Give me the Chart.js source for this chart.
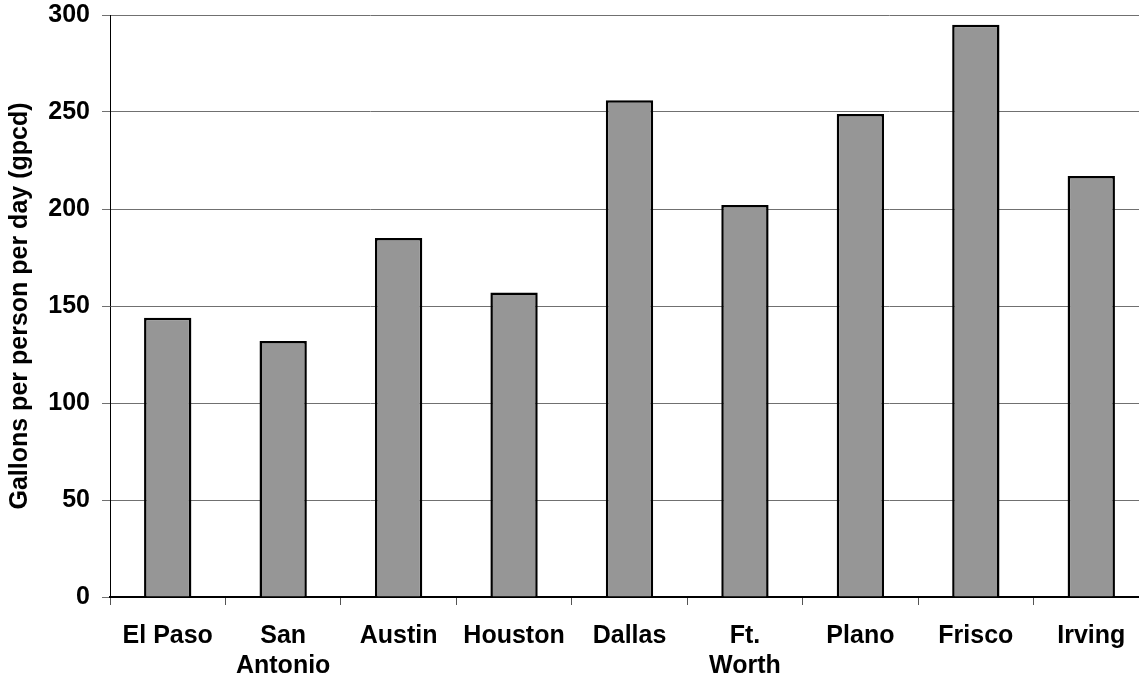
<!DOCTYPE html>
<html>
<head>
<meta charset="utf-8">
<title>Per capita water use, Texas cities</title>
<script src="https://cdn.jsdelivr.net/npm/chart.js@4"></script>
<style>
  html, body { margin: 0; padding: 0; background: #fff; overflow: hidden; }
  #wrap { position: absolute; left: 0; top: 0; width: 1149px; height: 677px; }
</style>
</head>
<body>
<div id="wrap"><canvas id="c" width="1149" height="677"></canvas></div>
<script>
// City labels (multi-word names wrap onto two lines)
const cities = [
  'El Paso', ['San', 'Antonio'], 'Austin', 'Houston', 'Dallas',
  ['Ft.', 'Worth'], 'Plano', 'Frisco', 'Irving'
];
// Gallons per person per day
const gpcd = [144, 132, 185, 157, 256, 202, 249, 295, 217];
// Value axis range and step
const yMin = 0;
const yMax = 300;
const yStep = 50;
const yTitle = 'Gallons per person per day (gpcd)';

const family = "'Liberation Sans', Arial, sans-serif";
const tickFont = { family: family, size: 25, weight: 'bold', lineHeight: 1.2 };
const titleFont = { family: family, size: 25, weight: 'bold', lineHeight: 1.08 };

new Chart(document.getElementById('c'), {
  type: 'bar',
  data: {
    labels: cities,
    datasets: [{
      data: gpcd,
      backgroundColor: '#969696',
      borderColor: '#000000',
      borderWidth: 2.5,
      barPercentage: 0.41,
      categoryPercentage: 1.0
    }]
  },
  options: {
    responsive: false,
    animation: false,
    devicePixelRatio: 1,
    layout: { padding: { top: 15, right: 0, bottom: 0, left: 0 } },
    plugins: {
      legend: { display: false },
      tooltip: { enabled: false }
    },
    scales: {
      x: {
        afterFit: (scale) => { scale.height = 80; },
        grid: {
          display: true,
          offset: true,
          drawOnChartArea: false,
          drawTicks: true,
          tickLength: 8,
          color: '#555555',
          lineWidth: 1
        },
        border: { display: true, color: '#000000', width: 2 },
        ticks: {
          color: '#000000',
          font: tickFont,
          padding: 16,
          maxRotation: 0,
          autoSkip: false
        }
      },
      y: {
        min: yMin,
        max: yMax,
        afterFit: (scale) => {
          scale.width = 110;
          scale.paddingTop = 0;
          scale.paddingBottom = 0;
        },
        grid: {
          color: '#707070',
          lineWidth: 1,
          drawTicks: true,
          tickLength: 8
        },
        border: { display: true, color: '#000000', width: 1 },
        ticks: {
          stepSize: yStep,
          color: '#000000',
          font: tickFont,
          padding: 12
        },
        title: {
          display: true,
          text: yTitle,
          color: '#000000',
          font: titleFont,
          padding: { top: 7, bottom: 0 }
        }
      }
    }
  }
});
</script>
</body>
</html>
